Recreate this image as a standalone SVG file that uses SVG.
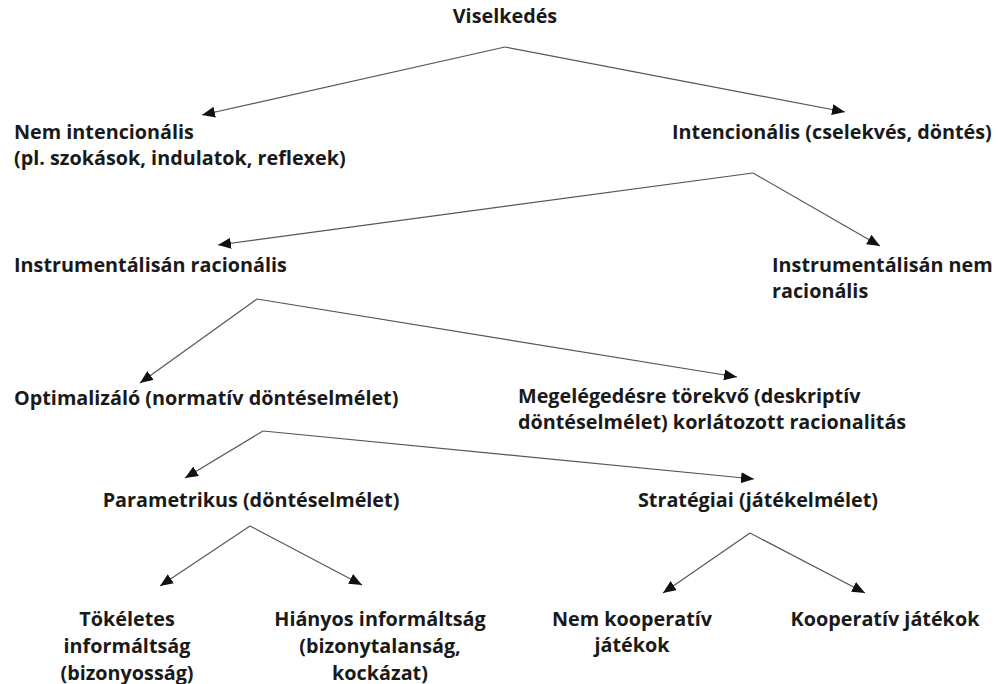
<svg xmlns="http://www.w3.org/2000/svg" width="1000" height="684" viewBox="0 0 1000 684">
<style>
text{font-family:"Open Sans","Noto Sans","DejaVu Sans",sans-serif;font-weight:700;font-size:19.8px;fill:#1a1a1a}
.m{text-anchor:middle}
.c line{stroke:#555;stroke-width:1.2;marker-end:url(#ah)}
</style>
<defs>
<marker id="ah" markerUnits="userSpaceOnUse" markerWidth="14" markerHeight="12" refX="13" refY="5.5" orient="auto">
<path d="M0,0 L13,5.5 L0,11 z" fill="#111"/>
</marker>
</defs>
<rect width="1000" height="684" fill="#fff"/>
<g class="c" id="connectors">
<line x1="505" y1="47" x2="202" y2="115"/>
<line x1="505" y1="47" x2="845" y2="112"/>
<line x1="753" y1="173" x2="218" y2="245"/>
<line x1="753" y1="173" x2="880" y2="246"/>
<line x1="257" y1="299" x2="140" y2="383"/>
<line x1="257" y1="299" x2="737" y2="377"/>
<line x1="263" y1="431" x2="185" y2="478"/>
<line x1="263" y1="431" x2="754" y2="479"/>
<line x1="250" y1="526" x2="160" y2="586"/>
<line x1="250" y1="526" x2="362" y2="585"/>
<line x1="750" y1="533" x2="663" y2="593"/>
<line x1="750" y1="533" x2="865" y2="593"/>
</g>
<g id="viselkedes"><text x="505" y="23" class="m">Viselkedés</text></g>
<g id="nem-intencionalis"><text x="14" y="139">Nem intencionális</text><text x="14" y="165">(pl. szokások, indulatok, reflexek)</text></g>
<g id="intencionalis"><text x="672" y="139">Intencionális (cselekvés, döntés)</text></g>
<g id="instr-racionalis"><text x="14" y="272">Instrumentálisán racionális</text></g>
<g id="instr-nem-racionalis"><text x="772" y="272">Instrumentálisán nem</text><text x="772" y="298">racionális</text></g>
<g id="optimalizalo"><text x="14" y="405">Optimalizáló (normatív döntéselmélet)</text></g>
<g id="megelegedesre"><text x="518" y="403">Megelégedésre törekvő (deskriptív</text><text x="518" y="429">döntéselmélet) korlátozott racionalitás</text></g>
<g id="parametrikus"><text x="251" y="507" class="m">Parametrikus (döntéselmélet)</text></g>
<g id="strategiai"><text x="758" y="507" class="m">Stratégiai (játékelmélet)</text></g>
<g id="tokeletes"><text x="127" y="626" class="m">Tökéletes</text><text x="127" y="653" class="m">informáltság</text><text x="127" y="680" class="m">(bizonyosság)</text></g>
<g id="hianyos"><text x="380" y="626" class="m">Hiányos informáltság</text><text x="380" y="653" class="m">(bizonytalanság,</text><text x="380" y="680" class="m">kockázat)</text></g>
<g id="nem-kooperativ"><text x="632" y="626" class="m">Nem kooperatív</text><text x="632" y="652" class="m">játékok</text></g>
<g id="kooperativ"><text x="885" y="626" class="m">Kooperatív játékok</text></g>
</svg>
